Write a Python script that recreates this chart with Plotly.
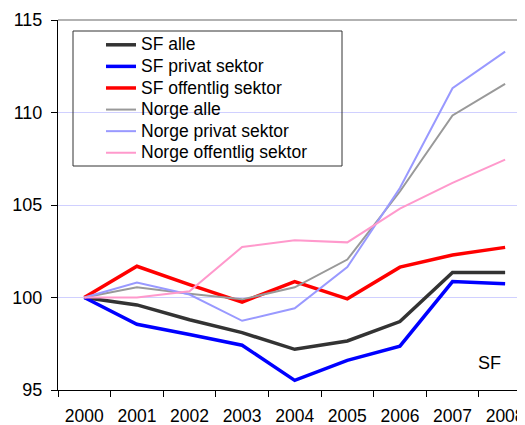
import plotly.graph_objects as go

years = ["2000", "2001", "2002", "2003", "2004", "2005", "2006", "2007", "2008"]

sf_alle = [100, 99.6, 98.8, 98.1, 97.2, 97.65, 98.7, 101.35, 101.35]
sf_privat = [100, 98.55, 98.0, 97.42, 95.52, 96.6, 97.37, 100.86, 100.74]
sf_offentlig = [100, 101.69, 100.7, 99.75, 100.86, 99.93, 101.64, 102.3, 102.71]
norge_alle = [100, 100.55, 100.2, 99.9, 100.55, 102.05, 105.73, 109.84, 111.55]
norge_privat = [100, 100.81, 100.16, 98.74, 99.42, 101.64, 105.92, 111.31, 113.29]
norge_offentlig = [100, 100.0, 100.34, 102.73, 103.09, 102.98, 104.8, 106.2, 107.45]

series_names = ["SF alle", "SF privat sektor", "SF offentlig sektor",
                "Norge alle", "Norge privat sektor", "Norge offentlig sektor"]
series_values = [sf_alle, sf_privat, sf_offentlig, norge_alle, norge_privat, norge_offentlig]
colors = ["#333333", "#0000ff", "#ff0000", "#999999", "#9999ff", "#ff99cc"]
widths = [3.5, 3.5, 3.5, 2, 2, 2]

FONT = "Liberation Sans, Arial, sans-serif"
LEGEND_TEXT_SIZE = 17.5

fig = go.Figure()
for name, vals, c, w in zip(series_names, series_values, colors, widths):
    fig.add_trace(go.Scatter(
        x=years, y=vals, mode="lines",
        name=f'<span style="font-size:{LEGEND_TEXT_SIZE}px">{name}</span>',
        line=dict(color=c, width=w)))

# The page body has an 8px margin, so the figure is laid out in page
# coordinates minus 8px.
OFF = 8
W, H = 525, 425
PL, PT, PB, PR = 58, 20, 390, 525          # plot area in page pixels
L, T = PL - OFF, PT - OFF
B = H - (PB - OFF)
R = W - (PR - OFF)
pw, ph = PR - PL, PB - PT

def px(xp):
    return (xp - PL) / pw

def py(yp):
    return (PB - yp) / ph

fig.update_layout(
    template="none",
    width=W, height=H,
    margin=dict(l=L, r=R, t=T, b=B, pad=0),
    paper_bgcolor="white", plot_bgcolor="white",
    font=dict(family=FONT, size=17, color="black"),
    showlegend=True,
    legend=dict(x=px(73), y=py(29), xanchor="left", yanchor="top",
                bgcolor="rgba(0,0,0,0)", borderwidth=0,
                font=dict(family=FONT, size=14.3, color="black"),
                indentation=28, tracegroupgap=0),
    xaxis=dict(type="category", range=[-0.5, 8.378], showgrid=False,
               showline=True, linecolor="black", linewidth=1,
               ticks="outside", tickson="boundaries", ticklen=6,
               tickcolor="black", tickwidth=1, automargin=False,
               ticklabelstandoff=10,
               tickfont=dict(family=FONT, size=17.5), zeroline=False),
    yaxis=dict(range=[95, 115], dtick=5, tick0=95, showgrid=True,
               gridcolor="#d0d0ff", gridwidth=1,
               showline=True, linecolor="black", linewidth=1,
               ticks="outside", ticklen=6, tickcolor="black",
               automargin=False, zeroline=False, ticklabelstandoff=5,
               tickfont=dict(family=FONT, size=18)),
    shapes=[
        dict(type="line", xref="paper", yref="paper", x0=0, x1=1, y0=1, y1=1,
             line=dict(color="#999999", width=1.5), layer="above"),
        dict(type="rect", xref="paper", yref="paper",
             x0=px(73), x1=px(342), y0=py(166), y1=py(31),
             line=dict(color="#333333", width=1), fillcolor="rgba(0,0,0,0)",
             layer="above"),
    ],
    annotations=[
        dict(text="SF", xref="paper", yref="paper", x=px(489), y=py(363),
             xanchor="center", yanchor="middle",
             showarrow=False, font=dict(family=FONT, size=18, color="black"))
    ],
)

fig.write_html("out.html")
